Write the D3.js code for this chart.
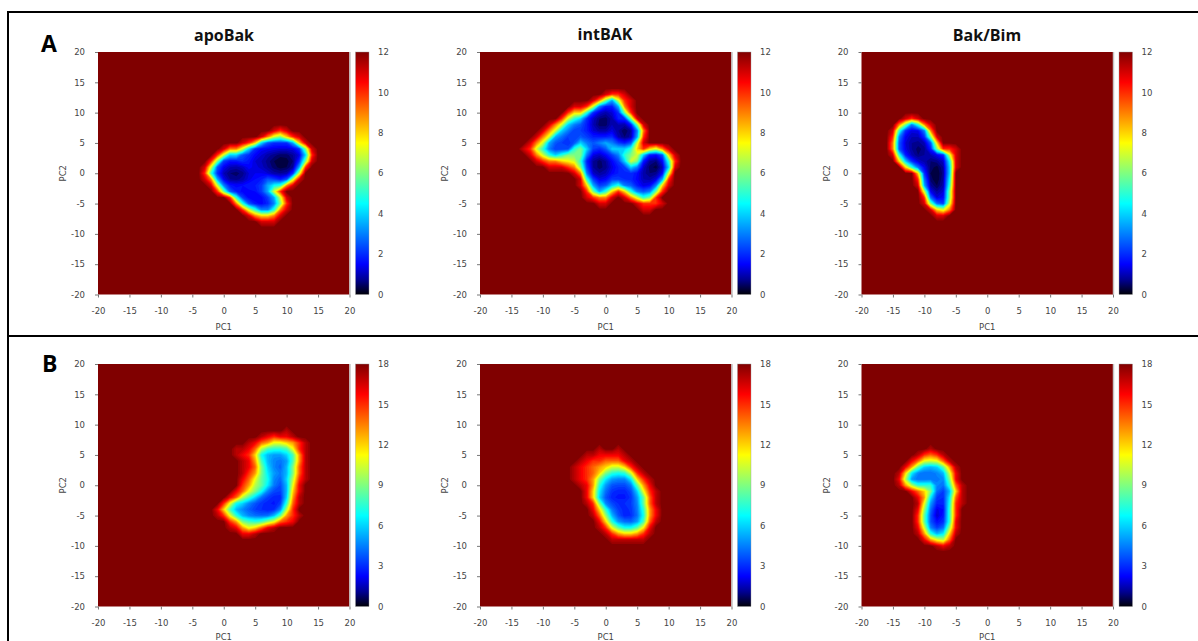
<!DOCTYPE html>
<html>
<head>
<meta charset="utf-8">
<script src="https://cdnjs.cloudflare.com/ajax/libs/d3/7.8.5/d3.min.js"></script>
<style>
  html, body { margin: 0; padding: 0; background: #fff; overflow: hidden; }
  text { font-family: "DejaVu Sans", sans-serif; font-size: 8.5px; fill: #444; }
  .title { font-family: "Open Sans", sans-serif; font-weight: 700; font-size: 16px; fill: #111; }
  .letter { font-family: "Open Sans", sans-serif; font-weight: 700; font-size: 23px; fill: #000; }
</style>
</head>
<body>
<div id="chart"></div>
<script>
// tick labels and colour map
const pcTicks = [-20, -15, -10, -5, 0, 5, 10, 15, 20];
const ticksA = [0, 2, 4, 6, 8, 10, 12];
const ticksB = [0, 3, 6, 9, 12, 15, 18];
const titles = ["apoBak", "intBAK", "Bak/Bim"];
const jetStops = [0, 0.06, 0.125, 0.375, 0.625, 0.875, 1];
const jetColors = ["#000008", "#000090", "#0000ff", "#00ffff", "#ffff00", "#ff0000", "#800000"];

// energy, 1 PC unit per cell: [PC2, first PC1, values...]
const apoBakA = [
  [7, 8, 11, 10, 11],
  [6, 6, 11, 9, 7, 6, 8, 10, 11],
  [5, 3, 11, 10, 8, 4, 2.5, 2, 2, 2, 3.5, 8, 11],
  [4, 0, 11, 9, 9, 7, 4, 2, 1.5, 1.4, 1.3, 1.2, 1.2, 1.3, 2, 6, 11],
  [3, -1, 10, 7, 4, 4, 2.5, 2, 1.5, 1.2, 0.9, 0.7, 0.5, 0.5, 0.8, 1.3, 4, 10],
  [2, -2, 10, 6, 2.2, 1.7, 1.7, 2, 1.7, 1.2, 1, 0.7, 0.4, 0.2, 0.3, 0.6, 2, 6, 11],
  [1, -3, 11, 7, 2.5, 1.4, 1, 0.9, 1.1, 1.5, 1.3, 1.1, 0.8, 0.5, 0.3, 0.4, 0.8, 3.5, 10],
  [0, -3, 10, 5, 2, 1, 0.6, 0.5, 0.7, 1.2, 1.4, 1.4, 1.2, 0.9, 0.8, 0.9, 2, 7, 12],
  [-1, -3, 11, 9, 3.5, 1.4, 0.8, 0.7, 0.9, 1.3, 1.6, 1.8, 2.5, 2.2, 1.8, 2.5, 7, 11],
  [-2, -2, 11, 7, 3, 1.7, 1.5, 1.6, 1.8, 1.8, 2.2, 3.5, 4.5, 5, 9, 11],
  [-3, -1, 10, 6, 2.6, 1.8, 1.5, 1.5, 1.6, 2.2, 3.5, 7, 10],
  [-4, 1, 10, 5, 2.2, 1.5, 1.4, 1.5, 2.2, 3.5, 7, 11],
  [-5, 2, 9, 5, 2.5, 1.7, 1.5, 1.9, 3, 6, 10],
  [-6, 3, 10, 7, 5, 3, 3, 5, 9, 11],
  [-7, 4, 11, 9, 8, 8, 9, 11],
  [-8, 6, 11, 11, 11]
];
const intBakA = [
  [13, 0, 11, 10, 10, 11],
  [12, -2, 11, 9, 6, 3.5, 7, 10, 11],
  [11, -5, 11, 11, 10, 7, 3, 1.8, 1.8, 3.5, 9, 11],
  [10, -6, 10, 8, 8, 5, 2, 1.2, 0.9, 1.2, 2, 6, 10],
  [9, -7, 10, 7, 5, 4, 2, 1.1, 0.6, 0.5, 0.9, 1.8, 2, 6, 11],
  [8, -9, 11, 9, 7, 4, 3, 2.5, 1.8, 1, 0.5, 0.5, 1, 1, 0.9, 1.8, 6, 11],
  [7, -10, 11, 9, 7, 4, 3, 2.2, 2.2, 1.8, 1.2, 0.9, 0.9, 1.3, 0.8, 0.4, 0.8, 3, 9],
  [6, -11, 11, 9, 7, 3.5, 2.8, 2.2, 2.2, 2.5, 2.2, 1.8, 1.8, 1.8, 2, 1, 0.6, 0.9, 3.5, 10],
  [5, -12, 11, 9, 7, 3.5, 2.5, 2.2, 2, 2.5, 4, 3, 2.5, 3, 3.5, 3, 2.2, 1.8, 2.5, 7, 11],
  [4, -13, 11, 10, 7, 5, 3, 2.2, 2.2, 2.4, 5, 6, 4, 2.2, 1.9, 2.5, 4, 4, 4, 5, 8, 10, 8, 7, 9, 11],
  [3, -12, 11, 9, 7, 5, 4, 5, 6, 6, 6, 3, 1.3, 1.1, 1.5, 2.2, 3, 5, 6, 7, 4, 1.8, 1.6, 2.5, 8, 11],
  [2, -11, 11, 10, 9, 9, 8, 7.5, 7, 5, 1.8, 0.8, 0.5, 0.8, 1.5, 2.2, 4, 7, 6, 1.8, 0.8, 0.6, 1.5, 5, 10],
  [1, -9, 11, 11, 11, 10, 9, 6, 2.2, 0.8, 0.5, 0.7, 1.3, 1.8, 2.2, 4, 3, 1.1, 0.5, 0.3, 1, 4, 11],
  [0, -5, 11, 9, 3, 1.1, 0.8, 1, 1.5, 1.8, 1.9, 2, 1.6, 0.9, 0.6, 0.7, 1.5, 7],
  [-1, -5, 12, 11, 5, 2.2, 1.3, 1.5, 2.2, 2.2, 2, 1.9, 1.5, 1, 0.9, 1.3, 3.5, 10],
  [-2, -4, 11, 8, 3.5, 2.2, 2.5, 4, 5, 3, 2.6, 1.8, 1.3, 1.5, 3, 8, 11],
  [-3, -3, 10, 6, 3.5, 5, 8, 10, 8, 5, 3, 2.5, 3, 6, 10],
  [-4, -3, 11, 10, 9, 9, 11, 12, 11, 9, 7, 5, 6, 10],
  [-5, -1, 11, 11, 12, 12, 12, 12, 11, 10, 10, 10, 11],
  [-6, 6, 11, 11]
];
const bakBimA = [
  [9, -13, 11, 10, 11],
  [8, -14, 9, 6, 3, 5, 9, 11],
  [7, -15, 11, 5, 2, 1.3, 1.4, 3, 9],
  [6, -15, 10, 3, 1.4, 1, 1, 2, 6, 11],
  [5, -15, 9, 2.5, 1.2, 0.8, 0.7, 1, 2.5, 8],
  [4, -15, 9, 2.5, 1.3, 0.8, 0.5, 0.7, 1.8, 6, 10, 10, 11],
  [3, -15, 11, 5, 1.8, 1, 0.6, 0.8, 1, 1.4, 2, 7, 11],
  [2, -14, 8, 4, 2, 1.2, 0.9, 0.6, 0.7, 1.1, 4.5, 11],
  [1, -13, 8, 5, 2.8, 1.4, 0.5, 0.3, 0.8, 4, 11],
  [0, -11, 8, 2, 0.4, 0.2, 0.7, 4],
  [-1, -11, 10, 2.8, 0.5, 0.2, 0.8, 4.5],
  [-2, -11, 11, 3.5, 0.8, 0.4, 0.9, 5],
  [-3, -10, 7, 1.4, 0.8, 1.2, 6],
  [-4, -10, 10, 2.8, 1.2, 1.5, 6],
  [-5, -10, 11, 6, 2.8, 2.2, 7],
  [-6, -9, 11, 8, 7, 9],
  [-7, -8, 11, 11]
];
const apoBakB = [
  [9, 10, 17],
  [8, 6, 17, 16, 15, 16, 16, 17],
  [7, 4, 17, 16, 14, 13, 11, 11, 12, 13, 15, 17],
  [6, 2, 17, 17, 16, 14, 10, 8, 7.5, 7.5, 8, 11, 15, 17],
  [5, 2, 17, 16, 15, 12, 7, 5.5, 5, 5, 6, 8, 13, 17],
  [4, 3, 17, 16, 13, 8, 5.5, 4.6, 4.3, 5, 8, 13, 17],
  [3, 3, 17, 16, 14, 9, 6, 4.6, 4, 5.5, 9, 14, 17],
  [2, 3, 17, 15, 13, 9, 6.5, 5, 4.4, 5.5, 9, 14, 17],
  [1, 3, 16, 14, 11, 8.5, 7, 4.6, 4, 6, 10, 15, 17],
  [0, 3, 15, 13, 10, 8.5, 6.5, 4.4, 3.6, 5.5, 11, 16],
  [-1, 2, 16, 14, 11, 9, 7, 4.6, 3.5, 3.3, 5.5, 12, 16],
  [-2, 1, 16, 14, 10, 8, 6, 4.2, 3.3, 2.8, 2.8, 6, 13, 17],
  [-3, 0, 15, 11, 7, 6, 4.6, 3.7, 3.1, 2.8, 2.6, 3.3, 7.5, 14, 17],
  [-4, -1, 16, 12, 8, 5.5, 4.6, 3.9, 3.3, 3, 2.7, 3, 4.6, 10, 15],
  [-5, -1, 17, 15, 11, 7.5, 5.5, 4.6, 4.2, 4, 4.2, 5.5, 8.5, 13, 15, 17],
  [-6, 1, 15, 13, 9, 8, 7.5, 8, 9.5, 11, 14, 15, 16],
  [-7, 1, 17, 16, 13, 11, 12, 14, 16, 17],
  [-8, 3, 16, 16, 17]
];
const intBakB = [
  [6, -1, 17, 18, 18, 17],
  [5, -3, 17, 17, 16, 16, 16, 16, 17],
  [4, -4, 17, 16, 15, 15, 14, 14, 14, 16, 17],
  [3, -5, 17, 16, 15, 14, 13, 12, 10.5, 10.5, 12, 15, 17],
  [2, -5, 17, 16, 15, 14, 12, 9, 7.5, 7, 7.5, 10.5, 15, 17],
  [1, -5, 17, 16, 15, 13, 9, 6.5, 5, 4.6, 4.6, 6.5, 12, 15, 17],
  [0, -4, 17, 16, 13, 7.5, 5, 3.7, 3.5, 3.5, 4.4, 8.5, 13, 16],
  [-1, -3, 16, 12, 6.5, 4.2, 3.1, 2.8, 2.8, 3.5, 6, 11, 15, 17],
  [-2, -3, 16, 12, 6, 3.7, 2.8, 2.6, 2.6, 3.1, 5, 8.5, 14, 17],
  [-3, -3, 17, 15, 9, 4.6, 3.5, 3, 3, 3.3, 4.6, 8.5, 14, 17],
  [-4, -2, 16, 12, 7.5, 4.4, 3.3, 2.8, 3.1, 4.4, 7.5, 13, 16],
  [-5, -2, 17, 14, 9.5, 5.5, 3.7, 2.8, 3, 4.2, 7, 13, 16],
  [-6, -1, 16, 12, 7.5, 5, 4.2, 4, 5, 8, 14, 17],
  [-7, -1, 17, 15, 11, 8.5, 7, 7, 8.5, 11.5, 16],
  [-8, 0, 17, 15, 13, 12, 12, 13, 15, 17],
  [-9, 1, 17, 17, 17, 17, 17, 17]
];
const bakBimB = [
  [6, -9, 17],
  [5, -11, 17, 15, 14, 15, 17],
  [4, -12, 16, 14, 11, 10.5, 11, 14, 17],
  [3, -13, 16, 13, 8.5, 6, 5.5, 6, 8.5, 13, 17],
  [2, -14, 17, 12, 6.5, 4.6, 4.2, 4.2, 4.6, 5.5, 10.5, 16],
  [1, -14, 16, 10, 5, 4.2, 4.2, 4.4, 4.4, 4.6, 9, 16],
  [0, -14, 17, 13, 10, 7.5, 7.5, 7.5, 4.6, 4.2, 7.5, 14, 17],
  [-1, -12, 16, 14, 12, 9, 4.2, 3.3, 5.5, 12, 17],
  [-2, -11, 16, 13, 6.5, 3.3, 3, 6.5, 14, 17],
  [-3, -11, 17, 11, 5, 2.8, 2.8, 7, 15, 17],
  [-4, -11, 16, 9.5, 4.2, 2, 2.4, 7.5, 15],
  [-5, -11, 15, 8.5, 3.7, 1.7, 2.6, 7.5, 15],
  [-6, -11, 15, 8.5, 3.7, 2.4, 3, 7.5, 16],
  [-7, -11, 16, 10.5, 4.6, 3.3, 4.2, 9.5, 16],
  [-8, -11, 17, 13, 7.5, 5.5, 6.5, 12, 17],
  [-9, -10, 16, 13, 11, 10, 14],
  [-10, -8, 17, 16, 17]
];

const width = 1198, height = 641;
const svg = d3.select("#chart").append("svg")
  .attr("width", width)
  .attr("height", height)
  .style("display", "block");

const defs = svg.append("defs");
defs.append("linearGradient")
  .attr("id", "jetBar")
  .attr("x1", 0).attr("x2", 0).attr("y1", 1).attr("y2", 0)
  .selectAll("stop")
  .data(jetStops)
  .enter()
  .append("stop")
  .attr("offset", d => d)
  .attr("stop-color", (d, i) => jetColors[i]);

const jet = d3.scaleLinear().domain(jetStops).range(jetColors);

const panelW = 251.5, panelH = 242.5;
const panelLefts = [98, 480, 861.5];
const rows = [
  { top: 52, max: 12, ticks: ticksA, pcY: 330, data: [apoBakA, intBakA, bakBimA] },
  { top: 364, max: 18, ticks: ticksB, pcY: 640, data: [apoBakB, intBakB, bakBimB] }
];

function drawPanel(left, top, max, barTicks, pcY, cells) {
  const g = svg.append("g");
  const x = d3.scaleLinear().domain([-20, 20]).range([left, left + panelW]);
  const y = d3.scaleLinear().domain([-20, 20]).range([top + panelH, top]);

  // 41 x 41 grid, everything not listed stays at the cut-off colour
  const grid = new Array(41 * 41).fill(-max);
  cells.forEach(row => {
    row.slice(2).forEach((v, i) => {
      grid[(20 - row[0]) * 41 + (row[1] + i + 20)] = -v;
    });
  });

  g.append("rect")
    .attr("x", x(-20)).attr("y", y(20))
    .attr("width", panelW).attr("height", panelH)
    .attr("fill", jet(1));

  const step = max / 60;
  const levels = d3.range(max - step, 0, -step);
  const contours = d3.contours().size([41, 41]).smooth(true);
  const toPixels = d3.geoTransform({
    point(px, py) { this.stream.point(x(px - 20.5), y(20.5 - py)); }
  });
  const path = d3.geoPath(toPixels);

  g.selectAll("path.band")
    .data(levels)
    .enter()
    .append("path")
    .attr("class", "band")
    .attr("d", t => path(contours.contour(grid, -t)))
    .attr("fill", t => jet((t - step / 2) / max));

  // light edge on the right of the map
  g.append("line")
    .attr("x1", x(20) + 0.5).attr("x2", x(20) + 0.5)
    .attr("y1", y(20)).attr("y2", y(-20))
    .attr("stroke", "#c4c4c4").attr("stroke-width", 1.5);

  const plain = d => String(d); // keep the short hyphen of the original labels
  const xAxis = d3.axisBottom(x).tickValues(pcTicks).tickFormat(plain).tickSize(3).tickPadding(10);
  const yAxis = d3.axisLeft(y).tickValues(pcTicks).tickFormat(plain).tickSize(3).tickPadding(10);
  [g.append("g").attr("transform", `translate(0,${y(-20)})`).call(xAxis),
   g.append("g").attr("transform", `translate(${x(-20)},0)`).call(yAxis)].forEach(a => {
    a.select(".domain").remove();
    a.selectAll("line").attr("stroke", "#777");
    a.selectAll("text").style("font-family", "'DejaVu Sans'").style("font-size", "8.5px").attr("fill", "#444");
  });

  g.append("text")
    .attr("x", x(0)).attr("y", pcY)
    .attr("text-anchor", "middle")
    .text("PC1");
  g.append("text")
    .attr("transform", `translate(${x(-20) - 32},${y(0)}) rotate(-90)`)
    .attr("text-anchor", "middle")
    .text("PC2");

  // colour bar
  const barX = left + panelW + 6, barW = 13.5;
  const bar = d3.scaleLinear().domain([0, max]).range([top + panelH, top]);
  g.append("rect")
    .attr("x", barX).attr("y", top)
    .attr("width", barW).attr("height", panelH)
    .attr("fill", "url(#jetBar)")
    .attr("stroke", "#999").attr("stroke-width", 0.4);
  const barAxis = g.append("g")
    .attr("transform", `translate(${barX + barW},0)`)
    .call(d3.axisRight(bar).tickValues(barTicks).tickSize(0).tickPadding(9));
  barAxis.select(".domain").remove();
  barAxis.selectAll("text").style("font-family", "'DejaVu Sans'").style("font-size", "8.5px").attr("fill", "#444");
}

rows.forEach(r => {
  r.data.forEach((cells, i) => drawPanel(panelLefts[i], r.top, r.max, r.ticks, r.pcY, cells));
});

// column titles, only on the top row
const titleX = [224, 605, 987];
svg.selectAll("text.title")
  .data(titles)
  .enter()
  .append("text")
  .attr("class", "title")
  .attr("x", (d, i) => titleX[i])
  .attr("y", (d, i) => i === 1 ? 40 : 41)
  .attr("text-anchor", "middle")
  .text(d => d);

svg.append("text").attr("class", "letter").attr("x", 41).attr("y", 52).text("A");
svg.append("text").attr("class", "letter").attr("x", 42).attr("y", 372).text("B");

// black frame lines
const frame = [
  [8, 12, 1198, 12],
  [8, 11, 8, 641],
  [8, 336, 1198, 336]
];
svg.selectAll("line.frame")
  .data(frame)
  .enter()
  .append("line")
  .attr("class", "frame")
  .attr("x1", d => d[0]).attr("y1", d => d[1])
  .attr("x2", d => d[2]).attr("y2", d => d[3])
  .attr("stroke", "#000")
  .attr("stroke-width", 2);
</script>
</body>
</html>
